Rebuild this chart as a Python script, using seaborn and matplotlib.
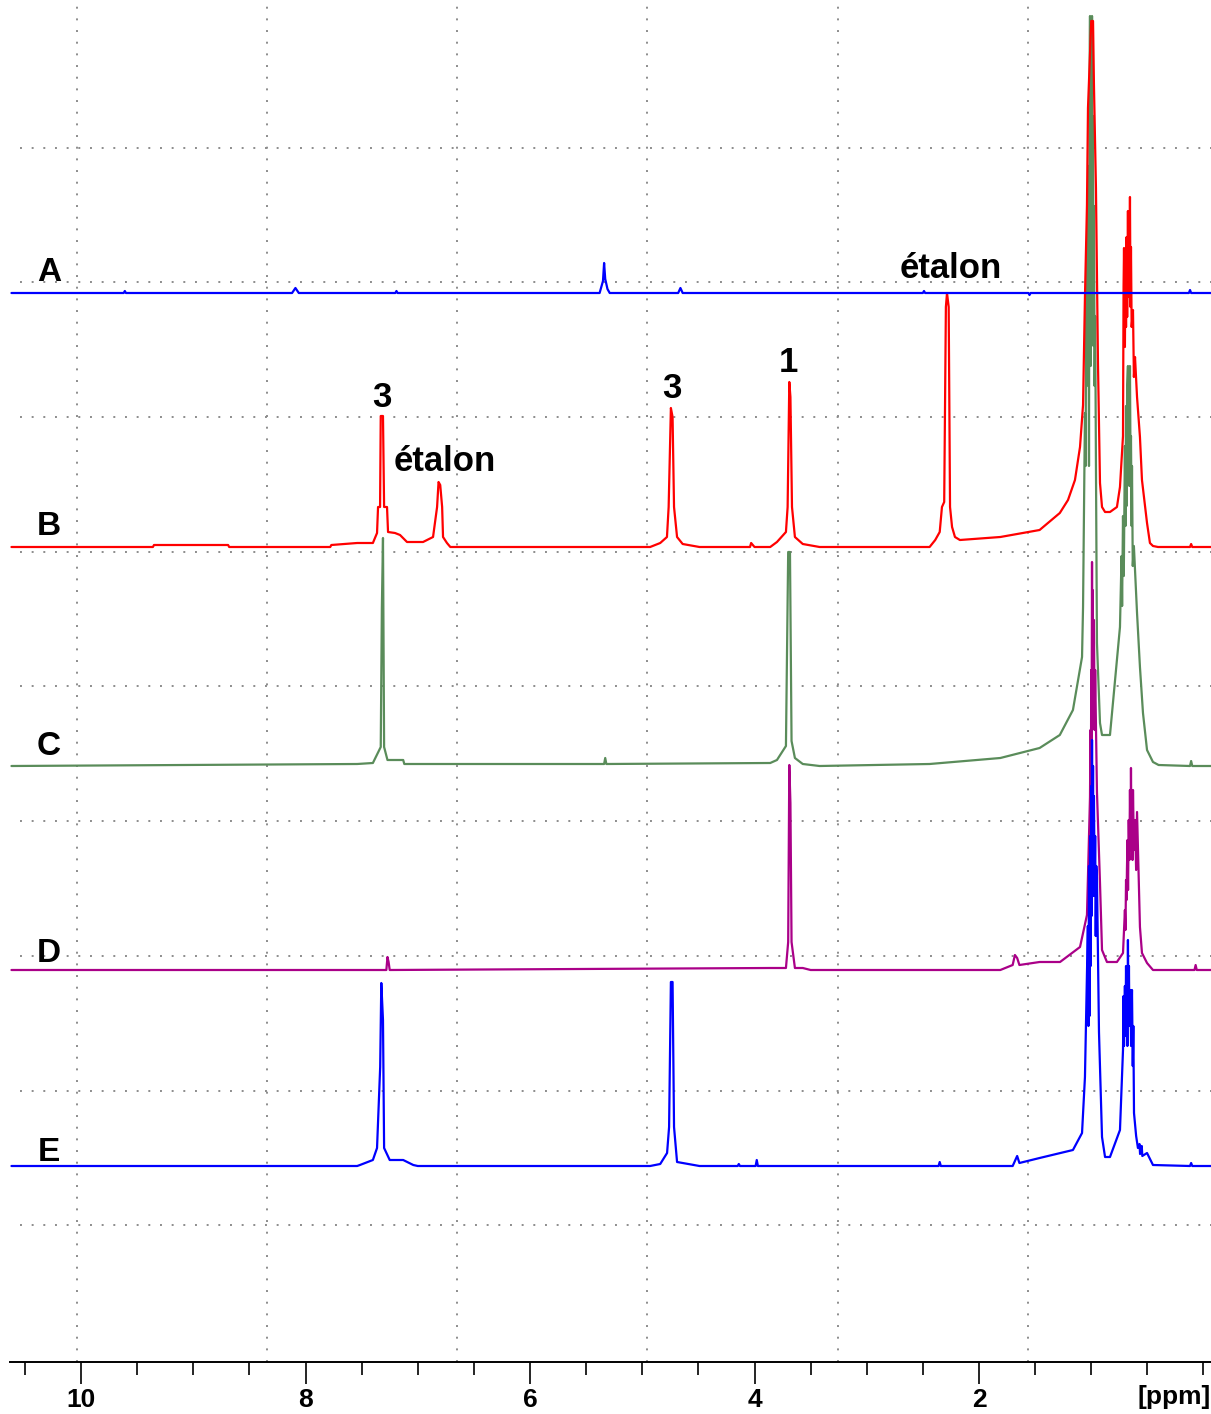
import numpy as np
import pandas as pd
import matplotlib
matplotlib.use("Agg")
import matplotlib.pyplot as plt
import seaborn as sns
from matplotlib.ticker import MultipleLocator, FixedLocator

# spectres RMN 1H empilés (A à E), intensités
a_ppm = [10.62, 9.62, 9.61, 9.60, 8.12, 8.09, 8.06, 7.20, 7.19, 7.18, 5.38, 5.35, 5.34, 5.33, 5.31, 5.29,
         4.68, 4.66, 4.64, 2.50, 2.49, 2.48, 1.56, 1.55, 1.54, 0.13, 0.12, 0.11, -0.07]
a_int = [0, 0, 2, 0, 0, 5, 0, 0, 2, 0, 0, 12, 30, 14, 4, 0,
         0, 5, 0, 0, 2, 0, 0, -2, 0, 0, 3, 0, 0]

b_ppm = [10.62, 9.36, 9.35, 8.69, 8.68, 7.78, 7.77, 7.54, 7.40, 7.363, 7.354, 7.336, 7.33, 7.31, 7.30,
         7.274, 7.265, 7.203, 7.158, 7.096, 6.953, 6.864, 6.828, 6.815, 6.80, 6.783, 6.775, 6.74, 6.71,
         4.93, 4.84, 4.78, 4.765, 4.745, 4.73, 4.717, 4.69, 4.64, 4.49, 4.04, 4.03, 4.00, 3.86, 3.80,
         3.72, 3.705, 3.69, 3.68, 3.666, 3.64, 3.57, 3.42, 2.44, 2.39, 2.35, 2.33, 2.31, 2.295, 2.285,
         2.27, 2.258, 2.24, 2.214, 2.17, 1.81, 1.46, 1.28, 1.207, 1.145, 1.10, 1.073, 1.056, 1.038,
         1.029, 1.00, 0.984, 0.976, 0.958, 0.94, 0.922, 0.904, 0.877, 0.833, 0.771, 0.744, 0.717,
         0.712, 0.708, 0.70, 0.695, 0.69, 0.685, 0.68, 0.673, 0.668, 0.664, 0.66, 0.655, 0.65, 0.646,
         0.64, 0.628, 0.62, 0.61, 0.592, 0.566, 0.548, 0.503, 0.477, 0.45,
         0.405, 0.12, 0.11, 0.10, -0.07]
b_int = [0, 0, 2, 2, 0, 0, 2, 4, 4, 14, 40, 40, 131, 131, 40,
         40, 15, 14, 12, 5, 5, 10, 40, 65, 62, 40, 10, 4, 0,
         0, 4, 10, 40, 139, 130, 40, 10, 3, 0, 0, 4, 0, 0, 5,
         15, 40, 165, 150, 40, 10, 3, 0, 0, 7, 15, 40, 45, 240, 254,
         240, 40, 20, 10, 7, 10, 17, 34, 47, 67, 100, 142, 250, 342,
         439, 526, 526, 463, 359, 184, 64, 40, 35, 35, 40, 60, 111,
         260, 299, 200, 290, 220, 310, 230, 336, 250, 330, 260, 350, 240, 300,
         220, 237, 170, 190, 150, 110, 67, 24, 4, 1,
         0, 0, 3, 0, 0]

c_ppm = [10.62, 7.54, 7.40, 7.33, 7.32, 7.31, 7.30, 7.27, 7.13, 7.12, 5.34, 5.33, 5.32, 3.86, 3.80,
         3.72, 3.70, 3.684, 3.67, 3.64, 3.57, 3.42, 2.44, 1.81, 1.46, 1.28, 1.163, 1.082, 1.073, 1.056,
         1.05, 1.045, 1.04, 1.035, 1.03, 1.025, 1.02, 1.015, 1.011, 1.005, 1.00, 0.997, 0.993, 0.988,
         0.984, 0.98, 0.976, 0.97, 0.965, 0.958, 0.949, 0.922, 0.904, 0.833, 0.744,
         0.73, 0.725, 0.717, 0.71, 0.70, 0.695, 0.69, 0.685, 0.68, 0.673, 0.668, 0.664, 0.66, 0.655,
         0.65, 0.646, 0.64, 0.637, 0.63, 0.62, 0.592, 0.566, 0.539, 0.503,
         0.45, 0.40, 0.12, 0.11, 0.10, -0.07]
c_int = [0, 2, 3, 19, 158, 228, 19, 6, 6, 2, 2, 8, 2, 3, 6,
         20, 214, 214, 25, 8, 2, 0, 2, 8, 18, 31, 56, 109, 159, 353,
         300, 480, 380, 560, 420, 600, 300, 680, 750, 400, 620, 450, 750, 500,
         650, 420, 560, 380, 450, 300, 123, 43, 31, 31, 139,
         210, 160, 250, 190, 320, 240, 360, 260, 380, 400, 290, 380, 280, 400,
         300, 330, 240, 300, 200, 220, 153, 99, 53, 16,
         4, 1, 0, 5, 0, 0]

d_ppm = [10.62, 7.28, 7.27, 7.26, 7.25, 3.86, 3.72, 3.70, 3.69, 3.68, 3.67, 3.64, 3.57, 3.50, 1.81,
         1.70, 1.68, 1.66, 1.64, 1.46, 1.278, 1.10, 1.038, 1.011, 1.007, 1.003, 1.00, 0.997, 0.993,
         0.99, 0.987, 0.984, 0.98, 0.976, 0.97, 0.965, 0.96,
         0.949, 0.922, 0.904, 0.86, 0.771, 0.717, 0.70, 0.695, 0.69, 0.685, 0.682, 0.677, 0.672, 0.666,
         0.66, 0.655, 0.65, 0.646, 0.642, 0.637, 0.632, 0.628,
         0.62, 0.61, 0.60, 0.592, 0.566, 0.548, 0.503, 0.45, 0.08, 0.07, 0.06, -0.07]
d_int = [0, 0, 13, 8, 0, 2, 2, 28, 205, 167, 28, 2, 2, 0, 0,
         5, 15, 12, 5, 8, 8, 23, 55, 173, 240, 180, 300, 220, 408,
         260, 380, 250, 330, 350, 240, 300, 260,
         178, 87, 20, 8, 8, 17, 60, 40, 90, 70, 100, 130, 80, 150,
         110, 180, 120, 202, 140, 170, 110, 180,
         120, 150, 100, 158, 43, 17, 7, 0, 0, 5, 0, 0]

e_ppm = [10.62, 7.54, 7.515, 7.40, 7.363, 7.335, 7.325, 7.31, 7.30, 7.25, 7.13, 7.04, 7.00, 4.93, 4.84,
         4.779, 4.761, 4.745, 4.73, 4.717, 4.69, 4.64, 4.49, 4.15, 4.14, 4.13, 3.99, 3.98, 3.97, 2.36, 2.35,
         2.34, 1.70, 1.68, 1.66, 1.64, 1.46, 1.163, 1.082, 1.056, 1.038, 1.03, 1.025, 1.02, 1.015,
         1.01, 1.005, 1.00, 0.997, 0.993, 0.989, 0.984, 0.98, 0.976, 0.97, 0.965, 0.96, 0.955,
         0.949, 0.931, 0.904, 0.877, 0.833, 0.744, 0.717, 0.712, 0.708, 0.70, 0.695, 0.69, 0.685,
         0.682, 0.678, 0.673, 0.668, 0.664, 0.66, 0.65, 0.645,
         0.637, 0.63, 0.625, 0.619, 0.60, 0.584, 0.57, 0.565, 0.55, 0.545, 0.503, 0.45, 0.12, 0.11,
         0.10, -0.07]
e_int = [0, 0, 1, 6, 18, 99, 183, 146, 18, 6, 6, 1, 0, 0, 2,
         13, 39, 184, 184, 39, 4, 3, 0, 0, 2, 0, 0, 6, 0, 0, 4,
         0, 0, 5, 10, 3, 8, 16, 33, 89, 193, 240, 140, 300, 150,
         330, 200, 380, 250, 426, 280, 400, 270, 370, 280, 330, 230, 300,
         288, 134, 29, 9, 9, 36, 116, 170, 120, 180, 130, 200, 150,
         189, 120, 226, 150, 200, 140, 176, 120,
         176, 100, 140, 53, 30, 18, 22, 12, 20, 10, 13, 1, 0, 3,
         0, 0]

names = ["A", "B", "C", "D", "E"]
spectra = {"A": (a_ppm, a_int), "B": (b_ppm, b_int), "C": (c_ppm, c_int),
           "D": (d_ppm, d_int), "E": (e_ppm, e_int)}
offsets = {"A": 1069, "B": 815, "C": 596, "D": 392, "E": 196}
colors = {"A": "#0000FF", "B": "#FF0000", "C": "#5A8C5A", "D": "#AA0088", "E": "#0000FF"}

major_ticks = [10, 8, 6, 4, 2]
vgrid = [10.04, 8.34, 6.65, 4.96, 3.26, 1.56]
hgrid = [1214, 1080, 945, 810, 676, 541, 406, 271, 137]

rows = []
for n in names:
    ppm, inten = spectra[n]
    for p, v in zip(ppm, inten):
        rows.append({"spectre": n, "ppm": p, "y": v + offsets[n]})
df = pd.DataFrame(rows)

sns.set_style("white")
plt.rcParams["font.family"] = ["Liberation Sans", "DejaVu Sans"]

fig = plt.figure(figsize=(12.11, 14.14), dpi=100)
ax = fig.add_axes([10 / 1211, 52 / 1414, 1201 / 1211, 1362 / 1414])

# grille pointillée
for g in vgrid:
    ax.axvline(g, color="#8c8c8c", lw=1.4, ls=(0, (1, 5)), zorder=0)
for g in hgrid:
    ax.axhline(g, xmin=0.008, xmax=1, color="#8c8c8c", lw=1.4, ls=(0, (1, 5)), zorder=0)

# ordre de tracé : C, B, D, E puis A au-dessus
for n in ["C", "B", "D", "E", "A"]:
    sub = df[df["spectre"] == n]
    sns.lineplot(data=sub, x="ppm", y="y", sort=False, estimator=None,
                 color=colors[n], lw=1.6, ax=ax, legend=False)

ax.set_xlim(10.633, -0.067)
ax.set_ylim(0, 1362)

label_y = {"A": 1081, "B": 827, "C": 607, "D": 400, "E": 201}
for n in names:
    ax.text(10.285, label_y[n], n, fontsize=24, fontweight="bold", color="black",
            ha="center", va="baseline")

notes = [(2.249, 1084, "étalon"), (7.318, 955, "3"), (6.757, 891, "étalon"),
         (4.735, 964, "3"), (3.70, 990, "1")]
for px, py, t in notes:
    ax.text(px, py, t, fontsize=25, fontweight="bold", color="black", ha="center", va="baseline")

# axe ppm
for s in ["left", "right", "top"]:
    ax.spines[s].set_visible(False)
ax.spines["bottom"].set_color("black")
ax.spines["bottom"].set_linewidth(1.4)
ax.set_yticks([])
ax.xaxis.set_major_locator(FixedLocator(major_ticks))
ax.xaxis.set_minor_locator(MultipleLocator(0.5))
ax.tick_params(axis="x", which="both", bottom=True, direction="out", color="black")
ax.tick_params(axis="x", which="major", length=16, width=1.2, pad=3, labelsize=19,
               labelcolor="black")
ax.tick_params(axis="x", which="minor", length=9, width=1.2)
for lab in ax.get_xticklabels():
    lab.set_fontweight("bold")
ax.set_xlabel("")
ax.set_ylabel("")
ax.text(1.0, -0.0257, "[ppm]", transform=ax.transAxes, fontsize=19, fontweight="bold",
        color="black", ha="right", va="center")

fig.savefig("out.png", dpi=100)
